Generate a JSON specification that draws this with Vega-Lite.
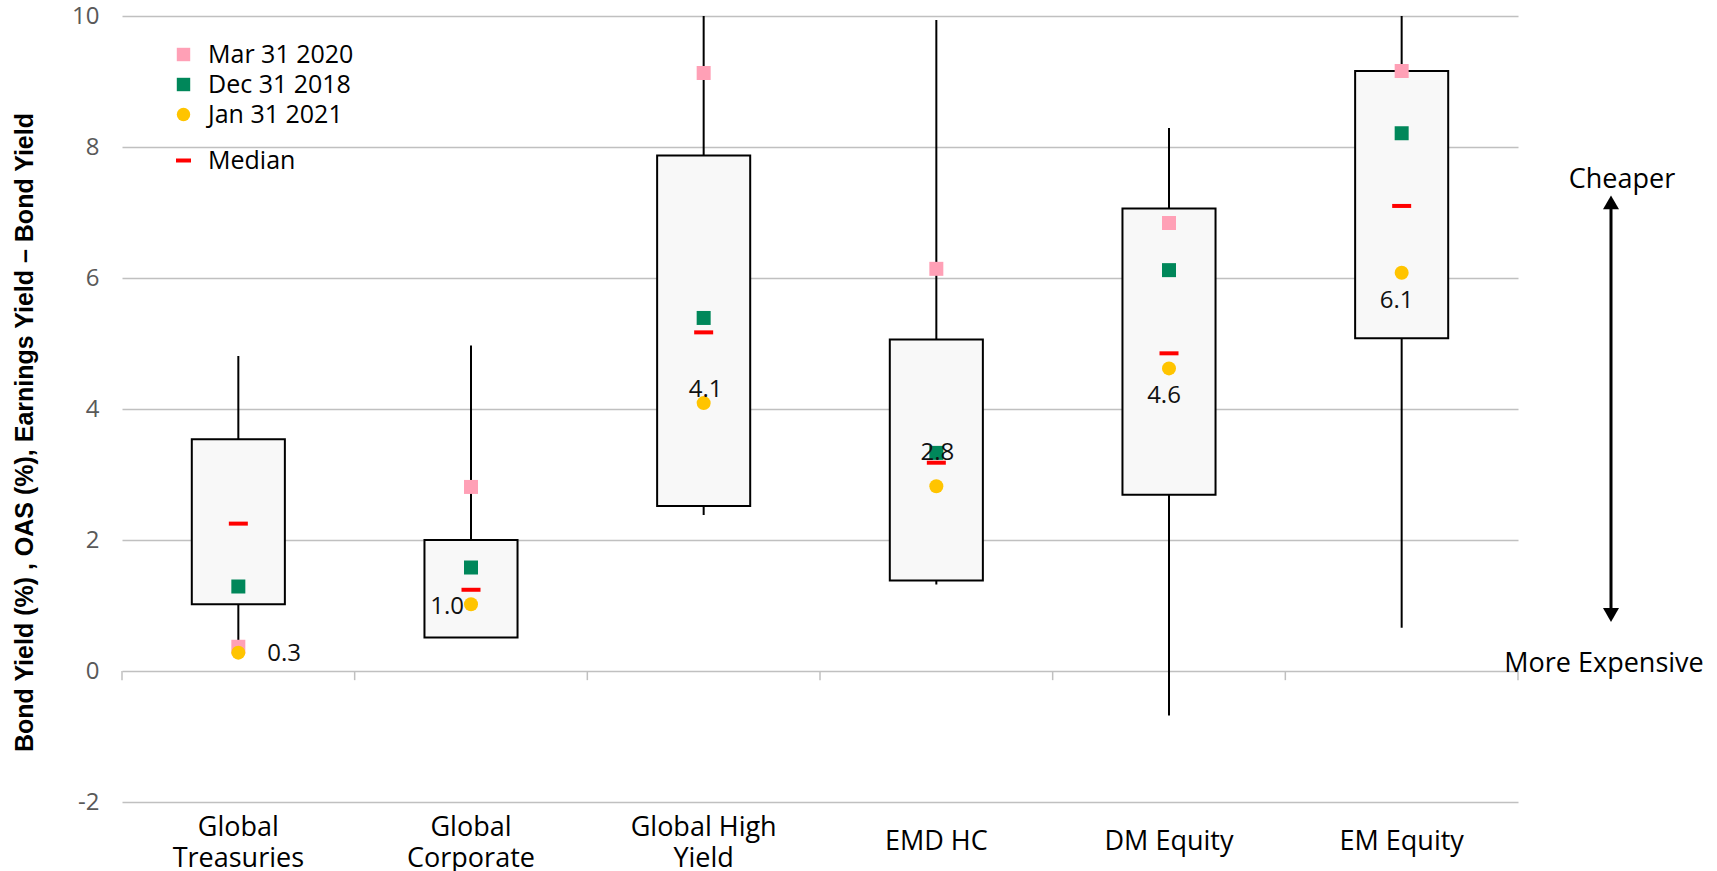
{
  "$schema": "https://vega.github.io/schema/vega-lite/v6.json",
  "background": "white",
  "padding": {"left": 12, "top": 4, "right": 0, "bottom": 0},
  "config": {"view": {"stroke": null}, "font": "Open Sans"},
  "datasets": {
    "boxes": [
      {"asset": "Global Treasuries", "low": 0.37, "q1": 1.02, "median": 2.25, "q3": 3.54, "high": 4.81},
      {"asset": "Global Corporate", "low": 0.51, "q1": 0.51, "median": 1.24, "q3": 2.0, "high": 4.97},
      {"asset": "Global High Yield", "low": 2.38, "q1": 2.52, "median": 5.17, "q3": 7.87, "high": 10.6},
      {"asset": "EMD HC", "low": 1.32, "q1": 1.38, "median": 3.18, "q3": 5.06, "high": 9.94},
      {"asset": "DM Equity", "low": -0.68, "q1": 2.69, "median": 4.85, "q3": 7.06, "high": 8.29},
      {"asset": "EM Equity", "low": 0.66, "q1": 5.08, "median": 7.1, "q3": 9.16, "high": 10.6}
    ],
    "points": [
      {"asset": "Global Treasuries", "date": "Mar 31 2020", "value": 0.37},
      {"asset": "Global Corporate", "date": "Mar 31 2020", "value": 2.81},
      {"asset": "Global High Yield", "date": "Mar 31 2020", "value": 9.13},
      {"asset": "EMD HC", "date": "Mar 31 2020", "value": 6.14},
      {"asset": "DM Equity", "date": "Mar 31 2020", "value": 6.84},
      {"asset": "EM Equity", "date": "Mar 31 2020", "value": 9.16},
      {"asset": "Global Treasuries", "date": "Dec 31 2018", "value": 1.29},
      {"asset": "Global Corporate", "date": "Dec 31 2018", "value": 1.58},
      {"asset": "Global High Yield", "date": "Dec 31 2018", "value": 5.39},
      {"asset": "EMD HC", "date": "Dec 31 2018", "value": 3.33},
      {"asset": "DM Equity", "date": "Dec 31 2018", "value": 6.12},
      {"asset": "EM Equity", "date": "Dec 31 2018", "value": 8.21},
      {"asset": "Global Treasuries", "date": "Jan 31 2021", "value": 0.28},
      {"asset": "Global Corporate", "date": "Jan 31 2021", "value": 1.02},
      {"asset": "Global High Yield", "date": "Jan 31 2021", "value": 4.09},
      {"asset": "EMD HC", "date": "Jan 31 2021", "value": 2.82},
      {"asset": "DM Equity", "date": "Jan 31 2021", "value": 4.62},
      {"asset": "EM Equity", "date": "Jan 31 2021", "value": 6.08}
    ]
  },
  "spacing": 0,
  "bounds": "flush",
  "hconcat": [
    {
      "width": 1396,
      "height": 786,
      "encoding": {
        "x": {
          "field": "asset", "type": "nominal",
          "sort": ["Global Treasuries", "Global Corporate", "Global High Yield", "EMD HC", "DM Equity", "EM Equity"],
          "scale": {"paddingInner": 0, "paddingOuter": 0},
          "axis": {"orient": "bottom", "title": null, "domain": false, "ticks": false, "tickSize": 0, "grid": false,
                   "labelAngle": 0, "labelFont": "Open Sans", "labelFontSize": 27, "labelColor": "black",
                   "labelBaseline": "middle", "labelLineHeight": 31,
                   "labelPadding": {"condition": {"test": "indexof(datum.value, 'Global') == 0", "value": 25}, "value": 39},
                   "labelExpr": "datum.label == 'Global Treasuries' ? ['Global', 'Treasuries'] : datum.label == 'Global Corporate' ? ['Global', 'Corporate'] : datum.label == 'Global High Yield' ? ['Global High', 'Yield'] : datum.label"}
        }
      },
      "layer": [
        {
          "data": {"name": "boxes"},
          "mark": {"type": "rule", "color": "#C0C0C0", "strokeWidth": 1.5},
          "encoding": {
            "x": {"field": "asset", "type": "nominal", "bandPosition": 0,
                  "sort": ["Global Treasuries", "Global Corporate", "Global High Yield", "EMD HC", "DM Equity", "EM Equity"]},
            "y": {
              "datum": 0, "type": "quantitative",
              "scale": {"domain": [-2, 10], "nice": false, "zero": false},
              "axis": {
                "title": "Bond Yield (%) , OAS (%),  Earnings Yield – Bond Yield",
                "titleFont": "Liberation Sans", "titleFontWeight": "bold", "titleFontSize": 25, "titleColor": "black",
                "titlePadding": 34, "titleY": 416,
                "values": [-2, 0, 2, 4, 6, 8, 10],
                "labelExpr": "'' + datum.value",
                "labelFont": "Open Sans", "labelFontSize": 24, "labelColor": "#595959", "labelPadding": 23,
                "domain": false, "ticks": false,
                "grid": true, "gridColor": "#C0C0C0", "gridWidth": 1.5
              }
            },
            "y2": {"datum": -0.14}
          }
        },
        {
          "data": {"name": "boxes"},
          "transform": [{"filter": "datum.asset == 'EM Equity'"}],
          "mark": {"type": "rule", "color": "#C0C0C0", "strokeWidth": 1.5},
          "encoding": {
            "x": {"field": "asset", "type": "nominal", "bandPosition": 1, "sort": ["Global Treasuries", "Global Corporate", "Global High Yield", "EMD HC", "DM Equity", "EM Equity"]},
            "y": {"datum": 0, "type": "quantitative"},
            "y2": {"datum": -0.14}
          }
        },
        {
          "data": {"name": "boxes"},
          "mark": {"type": "rule", "color": "black", "strokeWidth": 2, "clip": true},
          "encoding": {
            "y": {"field": "low", "type": "quantitative"},
            "y2": {"field": "high"}
          }
        },
        {
          "data": {"name": "boxes"},
          "mark": {"type": "bar", "fill": "#F8F8F8", "stroke": "black", "strokeWidth": 2, "width": {"band": 0.4}},
          "encoding": {
            "y": {"field": "q1", "type": "quantitative"},
            "y2": {"field": "q3"}
          }
        },
        {
          "data": {"name": "boxes"},
          "mark": {"type": "point", "shape": "stroke", "filled": false, "strokeWidth": 4, "size": 361, "opacity": 1},
          "encoding": {
            "y": {"field": "median", "type": "quantitative"},
            "stroke": {
              "datum": "Median",
              "scale": {"range": ["#FF0000"]},
              "legend": {"orient": "none", "legendX": 49, "legendY": 132, "title": null, "padding": 0,
                         "symbolType": "stroke", "symbolStrokeWidth": 4, "symbolSize": 225,
                         "labelFont": "Open Sans", "labelFontSize": 25, "labelColor": "black", "labelOffset": 12}
            }
          }
        },
        {
          "data": {"name": "points"},
          "mark": {"type": "point", "filled": true, "size": 196, "opacity": 1},
          "encoding": {
            "y": {"field": "value", "type": "quantitative"},
            "color": {
              "field": "date", "type": "nominal",
              "scale": {"domain": ["Mar 31 2020", "Dec 31 2018", "Jan 31 2021"], "range": ["#FFA0B6", "#00875A", "#FFC400"]},
              "legend": {"orient": "none", "legendX": 49, "legendY": 26, "title": null, "padding": 0, "rowPadding": 4,
                         "symbolSize": 180, "labelFont": "Open Sans", "labelFontSize": 25, "labelColor": "black", "labelOffset": 12}
            },
            "shape": {
              "field": "date", "type": "nominal",
              "scale": {"domain": ["Mar 31 2020", "Dec 31 2018", "Jan 31 2021"], "range": ["square", "square", "circle"]},
              "legend": {"orient": "none", "legendX": 49, "legendY": 26, "title": null, "padding": 0, "rowPadding": 4,
                         "symbolSize": 180, "labelFont": "Open Sans", "labelFontSize": 25, "labelColor": "black", "labelOffset": 12}
            }
          }
        },
        {
          "data": {"name": "points"},
          "transform": [{"filter": "datum.date == 'Jan 31 2021' && datum.asset == 'Global Treasuries'"}],
          "mark": {"type": "text", "align": "left", "baseline": "middle", "dx": 29, "dy": 1, "fontSize": 24, "color": "#111111"},
          "encoding": {
            "y": {"field": "value", "type": "quantitative"},
            "text": {"field": "value", "type": "quantitative", "format": ".1f"}
          }
        },
        {
          "data": {"name": "points"},
          "transform": [{"filter": "datum.date == 'Jan 31 2021' && datum.asset == 'Global Corporate'"}],
          "mark": {"type": "text", "align": "right", "baseline": "middle", "dx": -7, "dy": 3, "fontSize": 24, "color": "#111111"},
          "encoding": {
            "y": {"field": "value", "type": "quantitative"},
            "text": {"field": "value", "type": "quantitative", "format": ".1f"}
          }
        },
        {
          "data": {"name": "points"},
          "transform": [{"filter": "datum.date == 'Jan 31 2021' && datum.asset == 'Global High Yield'"}],
          "mark": {"type": "text", "align": "center", "baseline": "middle", "dx": 2, "dy": -13, "fontSize": 24, "color": "#111111"},
          "encoding": {
            "y": {"field": "value", "type": "quantitative"},
            "text": {"field": "value", "type": "quantitative", "format": ".1f"}
          }
        },
        {
          "data": {"name": "points"},
          "transform": [{"filter": "datum.date == 'Jan 31 2021' && datum.asset == 'EMD HC'"}],
          "mark": {"type": "text", "align": "center", "baseline": "middle", "dx": 1, "dy": -33, "fontSize": 24, "color": "#111111"},
          "encoding": {
            "y": {"field": "value", "type": "quantitative"},
            "text": {"field": "value", "type": "quantitative", "format": ".1f"}
          }
        },
        {
          "data": {"name": "points"},
          "transform": [{"filter": "datum.date == 'Jan 31 2021' && (datum.asset == 'DM Equity' || datum.asset == 'EM Equity')"}],
          "mark": {"type": "text", "align": "center", "baseline": "middle", "dx": -5, "dy": 28, "fontSize": 24, "color": "#111111"},
          "encoding": {
            "y": {"field": "value", "type": "quantitative"},
            "text": {"field": "value", "type": "quantitative", "format": ".1f"}
          }
        }
      ]
    },
    {
      "width": 200,
      "height": 786,
      "data": {"values": [{"note": "arrow"}]},
      "layer": [
        {
          "mark": {"type": "rule", "color": "black", "strokeWidth": 3},
          "encoding": {
            "x": {"datum": 0.465, "type": "quantitative", "scale": {"domain": [0, 1]}, "axis": null},
            "y": {"datum": 0.855, "type": "quantitative", "scale": {"domain": [-2, 10], "nice": false}, "axis": null},
            "y2": {"datum": 7.155}
          }
        },
        {
          "mark": {"type": "point", "shape": "triangle-up", "filled": true, "size": 256, "color": "black", "opacity": 1},
          "encoding": {
            "x": {"datum": 0.465, "type": "quantitative"},
            "y": {"datum": 7.155, "type": "quantitative"}
          }
        },
        {
          "mark": {"type": "point", "shape": "triangle-down", "filled": true, "size": 256, "color": "black", "opacity": 1},
          "encoding": {
            "x": {"datum": 0.465, "type": "quantitative"},
            "y": {"datum": 0.855, "type": "quantitative"}
          }
        },
        {
          "mark": {"type": "text", "text": "Cheaper", "fontSize": 27, "align": "center", "baseline": "middle", "color": "black"},
          "encoding": {
            "x": {"datum": 0.52, "type": "quantitative"},
            "y": {"datum": 7.5, "type": "quantitative"}
          }
        },
        {
          "mark": {"type": "text", "text": "More Expensive", "fontSize": 27, "align": "center", "baseline": "middle", "color": "black"},
          "encoding": {
            "x": {"datum": 0.43, "type": "quantitative"},
            "y": {"datum": 0.11, "type": "quantitative"}
          }
        }
      ]
    }
  ]
}
